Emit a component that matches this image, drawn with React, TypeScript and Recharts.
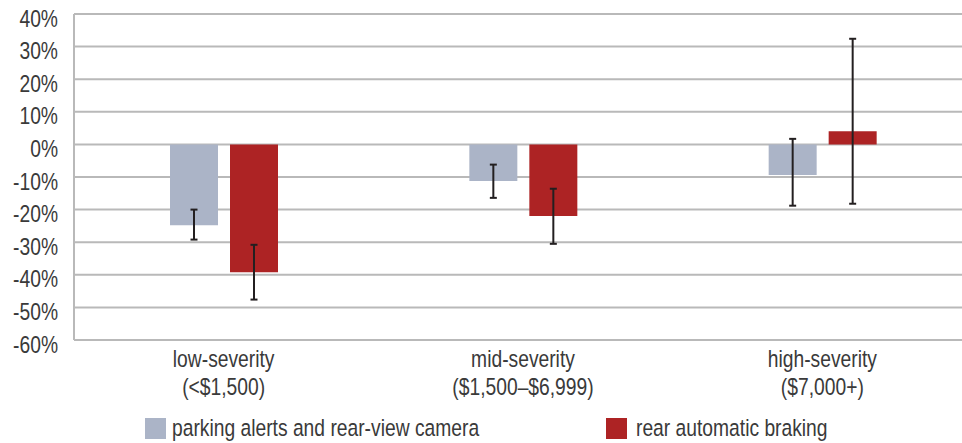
import React from 'react';
import { BarChart, Bar, XAxis, YAxis, CartesianGrid, ErrorBar, Legend } from 'recharts';

const categoryLine1 = ['low-severity', 'mid-severity', 'high-severity'];
const categoryLine2 = ['(<$1,500)', '($1,500–$6,999)', '($7,000+)'];

const parkingValues = [-24.8, -11.2, -9.4];
const parkingLower = [-29.2, -16.4, -18.8];
const parkingUpper = [-20.0, -6.2, 1.7];

const brakingValues = [-39.2, -22.0, 4.0];
const brakingLower = [-47.6, -30.5, -18.2];
const brakingUpper = [-30.8, -13.6, 32.4];

const yTicks = [-60, -50, -40, -30, -20, -10, 0, 10, 20, 30, 40];

const seriesNames = ['parking alerts and rear-view camera', 'rear automatic braking'];
const seriesColors = ['#abb4c7', '#ad2324'];

const data = categoryLine1.map((c, i) => ({
  category: c,
  sub: categoryLine2[i],
  parking: parkingValues[i],
  parkingErr: [parkingValues[i] - parkingLower[i], parkingUpper[i] - parkingValues[i]],
  braking: brakingValues[i],
  brakingErr: [brakingValues[i] - brakingLower[i], brakingUpper[i] - brakingValues[i]],
}));

const FONT = "'Liberation Sans', Arial, sans-serif";
const TEXT = '#3a3a3a';
const GRID = '#b9b9b9';
const FS = 23.5;
const SQUEEZE = 0.82;

const CText = ({ x, y, anchor, children }: any) => (
  <text
    transform={`translate(${x} ${y}) scale(${SQUEEZE} 1)`}
    x={0}
    y={0}
    textAnchor={anchor || 'start'}
    fill={TEXT}
    fontFamily={FONT}
    fontSize={FS}
  >
    {children}
  </text>
);

const YTick = (props: any) => {
  const { y, payload } = props;
  return <CText x={58} y={y + 12.5} anchor="end">{`${payload.value}%`}</CText>;
};

const XTick = (props: any) => {
  const { x, y, payload, index } = props;
  return (
    <g>
      <CText x={x} y={y + 27} anchor="middle">{payload.value}</CText>
      <CText x={x} y={y + 55} anchor="middle">{categoryLine2[index]}</CText>
    </g>
  );
};

const LegendContent = () => (
  <svg width={962} height={26} style={{ display: 'block', overflow: 'visible' }}>
    <rect x={145} y={1} width={21} height={21} fill={seriesColors[0]} />
    <CText x={172} y={19}>{seriesNames[0]}</CText>
    <rect x={606} y={1} width={21} height={21} fill={seriesColors[1]} />
    <CText x={636} y={19}>{seriesNames[1]}</CText>
  </svg>
);

export default function App() {
  return (
    <div style={{ position: 'absolute', left: 0, top: 0, width: 962, height: 443, overflow: 'hidden', background: '#fff' }}>
      <BarChart
        width={972}
        height={443}
        data={data}
        margin={{ top: 14, right: 0, left: 0, bottom: 0 }}
        barSize={48}
        barGap={12}
      >
        <CartesianGrid horizontal vertical={false} stroke={GRID} strokeWidth={2} />
        <XAxis
          dataKey="category"
          height={77}
          tick={<XTick />}
          tickLine={false}
          axisLine={false}
          tickSize={0}
          tickMargin={0}
          interval={0}
        />
        <YAxis
          width={74}
          domain={[-60, 40]}
          ticks={yTicks}
          interval={0}
          tick={<YTick />}
          tickLine={false}
          axisLine={{ stroke: GRID, strokeWidth: 2 }}
        />
        <Legend verticalAlign="bottom" content={<LegendContent />} wrapperStyle={{ left: 0, width: 962 }} />
        <Bar dataKey="parking" name={seriesNames[0]} fill={seriesColors[0]} isAnimationActive={false}>
          <ErrorBar dataKey="parkingErr" direction="y" width={3.5} stroke="#231f20" strokeWidth={2} isAnimationActive={false} />
        </Bar>
        <Bar dataKey="braking" name={seriesNames[1]} fill={seriesColors[1]} isAnimationActive={false}>
          <ErrorBar dataKey="brakingErr" direction="y" width={3.5} stroke="#231f20" strokeWidth={2} isAnimationActive={false} />
        </Bar>
      </BarChart>
    </div>
  );
}
